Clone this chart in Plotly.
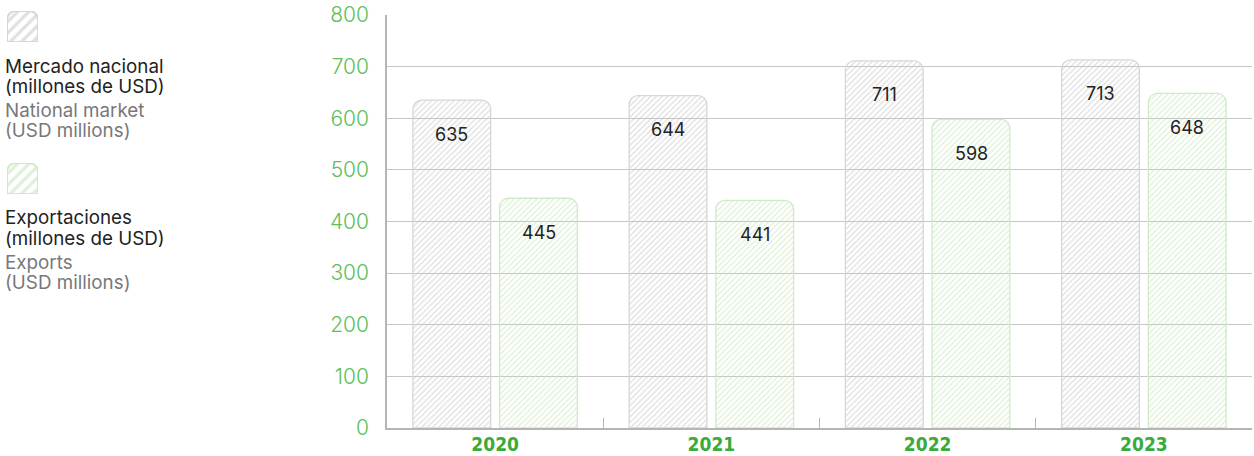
import plotly.graph_objects as go

years = ["2020", "2021", "2022", "2023"]
national = [635, 644, 711, 713]
exports = [445, 441, 598, 648]
y_ticks = [0, 100, 200, 300, 400, 500, 600, 700, 800]

legend_lines = [
    ["Mercado nacional", "(millones de USD)", "National market", "(USD millions)"],
    ["Exportaciones", "(millones de USD)", "Exports", "(USD millions)"],
]

GRAY_LINE = "#c2c2c2"
GREEN_LINE = "#bfe2b4"
GRAY_EDGE = "#d6d6d6"
GREEN_EDGE = "#d0eac7"
TICK_GREEN = "#5cbf5a"
YEAR_GREEN = "#3aaa3a"

W, H = 1254, 456
ML, MR, MT, MB = 5, 2, 5, 28
PW, PH = W - ML - MR, H - MT - MB


def px_x(x):
    return (x - ML) / PW


def px_y(y):
    return (H - MB - y) / PH


fig = go.Figure()

for name, vals, col, edge in [("national", national, GRAY_LINE, GRAY_EDGE),
                              ("exports", exports, GREEN_LINE, GREEN_EDGE)]:
    fig.add_trace(go.Bar(
        x=years, y=vals, name=name,
        marker=dict(
            color="rgba(255,255,255,0)",
            line=dict(color=edge, width=1.3),
            pattern=dict(shape="/", fgcolor=col, bgcolor="rgba(255,255,255,0)",
                         size=4, solidity=0.35, fillmode="overlay"),
        ),
        showlegend=False, hoverinfo="skip",
    ))

# value labels
for vals, shift in [(national, -43.5), (exports, 43.5)]:
    for i, v in enumerate(vals):
        fig.add_annotation(x=i, y=v, xref="x", yref="y", text=str(v),
                           showarrow=False, xshift=shift, yshift=-34,
                           font=dict(family="Inter", size=18, color="#222222"))

# legend swatches (small separate axes)
for i, (col, edge, top, bot) in enumerate([(GRAY_LINE, GRAY_EDGE, 11, 42),
                                           (GREEN_LINE, GREEN_EDGE, 163, 194)]):
    ax = i + 2
    fig.add_trace(go.Bar(
        x=[0], y=[1], xaxis=f"x{ax}", yaxis=f"y{ax}", width=1,
        marker=dict(color="rgba(255,255,255,0)", line=dict(color=edge, width=2),
                    pattern=dict(shape="/", fgcolor=col, bgcolor="rgba(255,255,255,0)",
                                 size=8, solidity=0.4, fillmode="overlay")),
        showlegend=False, hoverinfo="skip",
    ))
    fig.update_layout(**{
        f"xaxis{ax}": dict(domain=[px_x(7), px_x(38)], range=[-0.5, 0.5], visible=False,
                           fixedrange=True, anchor=f"y{ax}"),
        f"yaxis{ax}": dict(domain=[px_y(bot), px_y(top)], range=[0, 1], visible=False,
                           fixedrange=True, anchor=f"x{ax}"),
    })

# legend texts, one annotation per line
for lines, ys in [(legend_lines[0], [66, 86, 110, 130]), (legend_lines[1], [218, 238, 262, 282])]:
    for j, (txt, yc) in enumerate(zip(lines, ys)):
        fig.add_annotation(xref="paper", yref="paper", x=px_x(4), y=px_y(yc),
                           xanchor="left", yanchor="middle", text=txt, showarrow=False,
                           borderpad=0,
                           font=dict(family="Inter", size=18.8,
                                     color="#222222" if j < 2 else "#787878"))

fig.update_layout(
    width=W, height=H,
    margin=dict(l=ML, r=MR, t=MT, b=MB, autoexpand=False),
    paper_bgcolor="white", plot_bgcolor="white",
    barmode="group", bargap=0.198, bargroupgap=0.103,
    barcornerradius=9,
    xaxis=dict(
        domain=[px_x(387), 1],
        type="category", range=[-0.5, 3.5], showgrid=False, showline=True,
        linecolor="#b5b5b5", linewidth=1.5,
        ticks="inside", tickson="boundaries", ticklen=10, tickcolor="#b5b5b5",
        ticklabelstandoff=-2,
        tickfont=dict(family="DejaVu Sans Condensed", size=19, color=YEAR_GREEN, weight="bold"),
        fixedrange=True,
    ),
    yaxis=dict(
        domain=[0, px_y(15)],
        range=[0, 800], tickvals=y_ticks, showgrid=True, gridcolor="#c6c6c6", gridwidth=1,
        showline=True, linecolor="#b5b5b5", linewidth=1.5, zeroline=False,
        tickfont=dict(family="Inter", size=21, color=TICK_GREEN, weight=300),
        ticks="outside", ticklen=12, tickcolor="rgba(0,0,0,0)",
        fixedrange=True,
    ),
)

fig.write_html("out.html", post_script="document.body.style.margin='0';",
               config={"displayModeBar": False})
